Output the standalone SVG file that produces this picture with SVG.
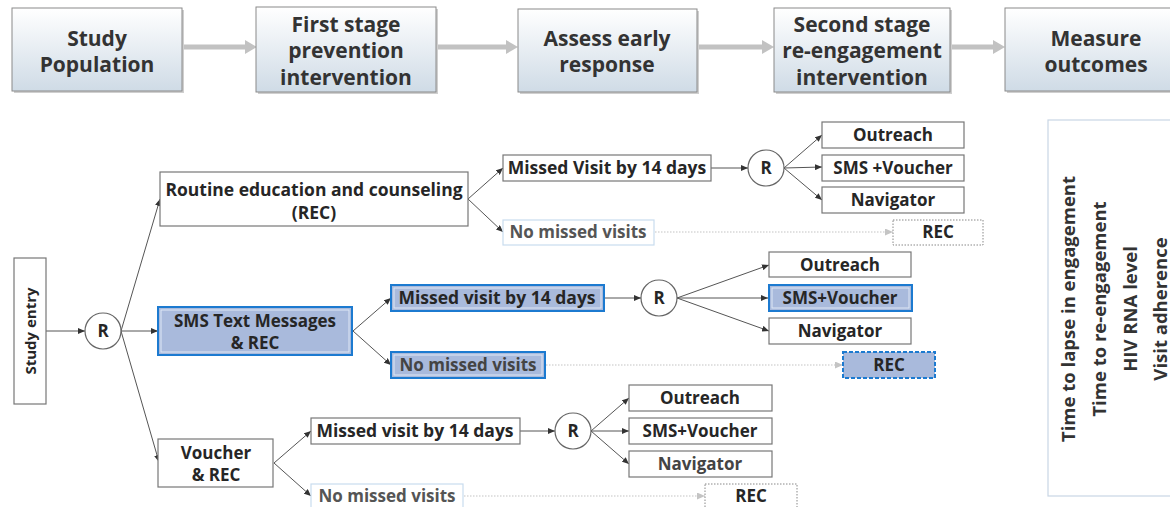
<svg xmlns="http://www.w3.org/2000/svg" width="1170" height="507" viewBox="0 0 1170 507">
<style>
.t{font-family:"Open Sans","Liberation Sans",sans-serif;font-weight:bold;fill:#262626;text-anchor:middle}
.top{font-size:21px;fill:#333}
.s{font-size:17px}
.r{font-size:17.5px}
.e{font-size:15px}
.box{fill:#fff;stroke:#777;stroke-width:1.2}
.topbox{fill:url(#g);stroke:#8a8a8a;stroke-width:1}
.shadow{fill:#cfcfcf}
.blue{fill:#a9badc;stroke:#1c7ad0;stroke-width:2}
.inner{fill:none;stroke:#dfe7f5;stroke-width:1}
.lb{fill:#fff;stroke:#c9dcee;stroke-width:1.2}
.circ{fill:#fff;stroke:#666;stroke-width:1.2}
.ln{stroke:#555;stroke-width:1;fill:none;marker-end:url(#a)}
.dot{stroke:#c4c4c4;stroke-width:1.2;stroke-dasharray:1.5,1.5;fill:none;marker-end:url(#ag)}
.fat{stroke:#c2c2c2;stroke-width:5;fill:none}
.oc{font-size:18.5px;fill:#333}
</style>
<defs>
<linearGradient id="g" x1="0" y1="0" x2="0" y2="1">
<stop offset="0" stop-color="#ffffff"/>
<stop offset="1" stop-color="#cfdbe6"/>
</linearGradient>
<marker id="a" markerUnits="userSpaceOnUse" markerWidth="7" markerHeight="6" refX="7" refY="3" orient="auto"><path d="M0,0 L7,3 L0,6 z" fill="#333"/></marker>
<marker id="ag" markerUnits="userSpaceOnUse" markerWidth="8" markerHeight="7" refX="8" refY="3.5" orient="auto"><path d="M0,0 L8,3.5 L0,7 z" fill="#c4c4c4"/></marker>
</defs>
<rect width="1170" height="507" fill="#fff"/>

<g id="connectors-top">
<line class="fat" x1="183" y1="47" x2="246" y2="47"/><polygon points="245,40 257,47 245,54" fill="#c2c2c2"/>
<line class="fat" x1="437" y1="47" x2="507" y2="47"/><polygon points="506,40 518,47 506,54" fill="#c2c2c2"/>
<line class="fat" x1="698" y1="47" x2="763" y2="47"/><polygon points="762,40 774,47 762,54" fill="#c2c2c2"/>
<line class="fat" x1="951" y1="47" x2="994" y2="47"/><polygon points="993,40 1005,47 993,54" fill="#c2c2c2"/>
</g>
<g id="n-study-pop">
<rect class="shadow" x="14" y="10" width="170" height="83"/>
<rect class="topbox" x="12" y="8" width="170" height="83"/>
<text class="t top" x="97" y="46">Study</text>
<text class="t top" x="97" y="72">Population</text>
</g>
<g id="n-first">
<rect class="shadow" x="258" y="9" width="180" height="85"/>
<rect class="topbox" x="256" y="7" width="180" height="85"/>
<text class="t top" x="346" y="32">First stage</text>
<text class="t top" x="346" y="58">prevention</text>
<text class="t top" x="346" y="85">intervention</text>
</g>
<g id="n-assess">
<rect class="shadow" x="520" y="11" width="179" height="83"/>
<rect class="topbox" x="518" y="9" width="179" height="83"/>
<text class="t top" x="607" y="46">Assess early</text>
<text class="t top" x="607" y="72">response</text>
</g>
<g id="n-second">
<rect class="shadow" x="776" y="10" width="176" height="84"/>
<rect class="topbox" x="774" y="8" width="176" height="84"/>
<text class="t top" x="862" y="32">Second stage</text>
<text class="t top" x="862" y="58">re-engagement</text>
<text class="t top" x="862" y="85">intervention</text>
</g>
<g id="n-measure">
<rect class="shadow" x="1007" y="10" width="170" height="83"/>
<rect class="topbox" x="1005" y="8" width="170" height="83"/>
<text class="t top" x="1096" y="46">Measure</text>
<text class="t top" x="1096" y="72">outcomes</text>
</g>

<g id="connectors">
<line class="ln" x1="46" y1="331" x2="85" y2="331"/>
<line class="ln" x1="121" y1="331" x2="160" y2="199"/>
<line class="ln" x1="121" y1="331" x2="158" y2="331"/>
<line class="ln" x1="121" y1="331" x2="159" y2="462"/>
<line class="ln" x1="468" y1="199" x2="503" y2="168"/>
<line class="ln" x1="468" y1="199" x2="503" y2="232"/>
<line class="ln" x1="711" y1="168" x2="748" y2="168"/>
<line class="ln" x1="784" y1="168" x2="822" y2="135"/>
<line class="ln" x1="784" y1="168" x2="822" y2="167"/>
<line class="ln" x1="784" y1="168" x2="822" y2="200"/>
<line class="dot" x1="655" y1="232" x2="893" y2="232"/>
<line class="ln" x1="353" y1="331" x2="391" y2="298"/>
<line class="ln" x1="353" y1="331" x2="391" y2="365"/>
<line class="ln" x1="604" y1="298" x2="641" y2="298"/>
<line class="ln" x1="677" y1="298" x2="769" y2="265"/>
<line class="ln" x1="677" y1="298" x2="768" y2="298"/>
<line class="ln" x1="677" y1="298" x2="769" y2="331"/>
<line class="dot" x1="546" y1="365" x2="843" y2="365"/>
<line class="ln" x1="274" y1="463" x2="311" y2="431"/>
<line class="ln" x1="274" y1="463" x2="311" y2="496"/>
<line class="ln" x1="520" y1="431" x2="555" y2="431"/>
<line class="ln" x1="591" y1="431" x2="629" y2="398"/>
<line class="ln" x1="591" y1="431" x2="629" y2="431"/>
<line class="ln" x1="591" y1="431" x2="629" y2="464"/>
<line class="dot" x1="464" y1="496" x2="705" y2="496"/>
</g>

<g id="n-entry">
<rect class="box" x="14" y="258" width="32" height="146"/>
<text class="t e" transform="translate(36,331) rotate(-90)">Study entry</text>
</g>
<g id="n-r0">
<circle class="circ" cx="103" cy="331" r="18"/>
<text class="t s" x="103" y="337">R</text>
</g>

<g id="n-rec">
<rect class="box" x="160" y="172" width="308" height="54"/>
<text class="t r" x="314" y="196">Routine education and counseling</text>
<text class="t r" x="314" y="219">(REC)</text>
</g>
<g id="n-mv1">
<rect class="box" x="503" y="155" width="208" height="26"/>
<text class="t r" x="607" y="174">Missed Visit by 14 days</text>
</g>
<g id="n-r1">
<circle class="circ" cx="766" cy="168" r="18"/>
<text class="t s" x="766" y="174">R</text>
</g>
<g id="n-out1">
<rect class="box" x="822" y="122" width="142" height="26"/>
<text class="t s" x="893" y="141">Outreach</text>
</g>
<g id="n-smsv1">
<rect class="box" x="822" y="155" width="142" height="26"/>
<text class="t s" x="893" y="174">SMS +Voucher</text>
</g>
<g id="n-nav1">
<rect class="box" x="822" y="187" width="142" height="26"/>
<text class="t s" x="893" y="206">Navigator</text>
</g>
<g id="n-nmv1">
<rect class="lb" x="503" y="220" width="151" height="25"/>
<text class="t s" x="578" y="238" style="fill:#555">No missed visits</text>
</g>
<g id="n-recd1">
<rect x="893" y="220" width="90" height="25" fill="#fff" stroke="#888" stroke-dasharray="1.5,1.5"/>
<text class="t s" x="938" y="238">REC</text>
</g>

<g id="n-sms">
<rect class="blue" x="158" y="307" width="194" height="48"/>
<rect class="inner" x="161" y="310" width="188" height="42"/>
<text class="t s" x="255" y="327">SMS Text Messages</text>
<text class="t s" x="255" y="349">&amp; REC</text>
</g>
<g id="n-mv2">
<rect class="blue" x="391" y="285" width="213" height="26"/>
<rect class="inner" x="394" y="288" width="207" height="20"/>
<text class="t r" x="497" y="304">Missed visit by 14 days</text>
</g>
<g id="n-r2">
<circle class="circ" cx="659" cy="298" r="18"/>
<text class="t s" x="659" y="304">R</text>
</g>
<g id="n-out2">
<rect class="box" x="769" y="252" width="142" height="25"/>
<text class="t s" x="840" y="271">Outreach</text>
</g>
<g id="n-smsv2">
<rect class="blue" x="769" y="285" width="143" height="26"/>
<rect class="inner" x="772" y="288" width="137" height="20"/>
<text class="t s" x="840" y="304">SMS+Voucher</text>
</g>
<g id="n-nav2">
<rect class="box" x="769" y="318" width="142" height="26"/>
<text class="t s" x="840" y="337">Navigator</text>
</g>
<g id="n-nmv2">
<rect class="blue" x="391" y="352" width="154" height="26"/>
<rect class="inner" x="394" y="355" width="148" height="20"/>
<text class="t s" x="468" y="371" style="fill:#444">No missed visits</text>
</g>
<g id="n-recd2">
<rect x="843" y="352" width="92" height="26" fill="#a9badc" stroke="#1c7ad0" stroke-width="2" stroke-dasharray="4,2"/>
<text class="t s" x="889" y="371">REC</text>
</g>

<g id="n-voucher">
<rect class="box" x="158" y="439" width="115" height="48"/>
<text class="t s" x="216" y="459">Voucher</text>
<text class="t s" x="216" y="481">&amp; REC</text>
</g>
<g id="n-mv3">
<rect class="box" x="311" y="418" width="209" height="26"/>
<text class="t r" x="415" y="437">Missed visit by 14 days</text>
</g>
<g id="n-r3">
<circle class="circ" cx="573" cy="431" r="18"/>
<text class="t s" x="573" y="437">R</text>
</g>
<g id="n-out3">
<rect class="box" x="629" y="385" width="143" height="26"/>
<text class="t s" x="700" y="404">Outreach</text>
</g>
<g id="n-smsv3">
<rect class="box" x="629" y="418" width="143" height="26"/>
<text class="t s" x="700" y="437">SMS+Voucher</text>
</g>
<g id="n-nav3">
<rect class="box" x="629" y="451" width="143" height="26"/>
<text class="t s" x="700" y="470" style="fill:#444">Navigator</text>
</g>
<g id="n-nmv3">
<rect class="lb" x="311" y="484" width="152" height="26"/>
<text class="t s" x="387" y="502" style="fill:#555">No missed visits</text>
</g>
<g id="n-recd3">
<rect x="705" y="484" width="92" height="26" fill="#fff" stroke="#888" stroke-dasharray="1.5,1.5"/>
<text class="t s" x="751" y="502">REC</text>
</g>

<g id="n-outcomes">
<rect x="1048" y="120" width="130" height="376" fill="#fff" stroke="#c9d6e4" stroke-width="1.2"/>
<text class="t oc" transform="translate(1075,309) rotate(-90)">Time to lapse in engagement</text>
<text class="t oc" transform="translate(1106,309) rotate(-90)">Time to re-engagement</text>
<text class="t oc" transform="translate(1137,309) rotate(-90)">HIV RNA level</text>
<text class="t oc" transform="translate(1167,309) rotate(-90)">Visit adherence</text>
</g>
</svg>
